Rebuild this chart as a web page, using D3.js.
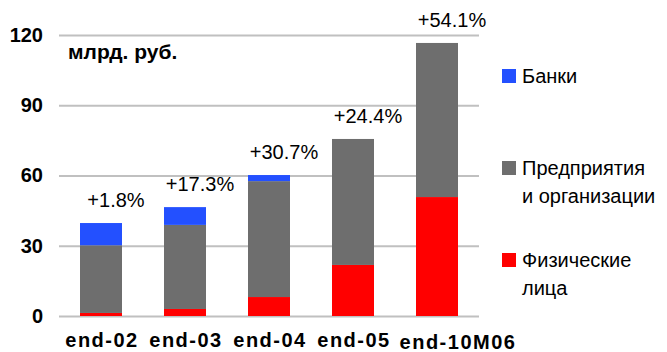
<!DOCTYPE html>
<html>
<head>
<meta charset="utf-8">
<script src="https://cdn.jsdelivr.net/npm/d3@7"></script>
<style>
  html, body { margin: 0; padding: 0; background: #fff; }
  svg { display: block; font-family: "Liberation Sans", Arial, sans-serif; }
</style>
</head>
<body>
<svg id="chart" width="667" height="352"></svg>
<script>
// Deposits by holder, bn roubles
const categories = ["end-02", "end-03", "end-04", "end-05", "end-10M06"];
const individuals = [1.3, 3.0, 8.1, 21.8, 50.8];
const enterprises = [28.9, 35.9, 49.5, 53.8, 65.8];
const banks = [9.5, 7.6, 2.6, 0, 0];
const growthLabels = ["+1.8%", "+17.3%", "+30.7%", "+24.4%", "+54.1%"];
const yTicks = [0, 30, 60, 90, 120];

const seriesKeys = ["individuals", "enterprises", "banks"];
const seriesNames = {
  banks: ["Банки"],
  enterprises: ["Предприятия", "и организации"],
  individuals: ["Физические", "лица"]
};
const colors = { individuals: "#FF0000", enterprises: "#6E6E6E", banks: "#2350FF" };

const rows = categories.map((c, i) => ({
  category: c,
  individuals: individuals[i],
  enterprises: enterprises[i],
  banks: banks[i]
}));

const svg = d3.select("#chart");
const plot = { left: 59, right: 479, top: 35, bottom: 316 };

const x = d3.scaleBand()
  .domain(categories)
  .range([plot.left, plot.right])
  .paddingInner(0.5)
  .paddingOuter(0.25);

const y = d3.scaleLinear()
  .domain([0, 120])
  .range([plot.bottom, plot.top]);

// Gridlines + value axis
const yAxis = svg.append("g")
  .attr("transform", `translate(${plot.left},0)`)
  .call(d3.axisLeft(y)
    .tickValues(yTicks)
    .tickSize(-(plot.right - plot.left))
    .tickPadding(16));
yAxis.select(".domain").remove();
yAxis.selectAll(".tick line")
  .attr("stroke", "#C0C0C0")
  .attr("stroke-width", 2);
yAxis.selectAll(".tick text")
  .attr("fill", "#000")
  .style("font-size", "20px")
  .style("font-weight", "bold")
  .style("font-family", "'Liberation Sans', Arial, sans-serif");

// Stacked bars
const stacked = d3.stack().keys(seriesKeys)(rows);
svg.append("g")
  .selectAll("g")
  .data(stacked)
  .join("g")
  .attr("fill", d => colors[d.key])
  .selectAll("rect")
  .data(d => d)
  .join("rect")
  .attr("x", d => x(d.data.category))
  .attr("width", x.bandwidth())
  .attr("y", d => y(d[1]))
  .attr("height", d => y(d[0]) - y(d[1]));

// Growth labels above each bar
svg.append("g")
  .selectAll("text")
  .data(rows)
  .join("text")
  .attr("x", d => x(d.category) + x.bandwidth() / 2 + 15)
  .attr("y", d => y(d.individuals + d.enterprises + d.banks) - 16)
  .attr("text-anchor", "middle")
  .style("font-size", "20px")
  .text((d, i) => growthLabels[i]);

// Category labels (the long last label is nudged right and down)
svg.append("g")
  .selectAll("text")
  .data(categories)
  .join("text")
  .attr("x", (d, i) => x(d) + x.bandwidth() / 2 + (i === categories.length - 1 ? 21 : 1))
  .attr("y", (d, i) => i === categories.length - 1 ? 349 : 347)
  .attr("text-anchor", "middle")
  .style("font-size", "20px")
  .style("font-weight", "bold")
  .style("letter-spacing", "1.5px")
  .text(d => d);

// Unit caption
svg.append("text")
  .attr("x", 68)
  .attr("y", 59)
  .style("font-size", "21px")
  .style("font-weight", "bold")
  .text("млрд. руб.");

// Legend
const legendItems = [
  { key: "banks", top: 69 },
  { key: "enterprises", top: 161 },
  { key: "individuals", top: 253 }
];
const legend = svg.append("g");
legendItems.forEach(item => {
  legend.append("rect")
    .attr("x", 502)
    .attr("y", item.top)
    .attr("width", 14)
    .attr("height", 14)
    .attr("fill", colors[item.key]);
  const t = legend.append("text")
    .attr("x", 522)
    .attr("y", item.top + 14)
    .style("font-size", "20px");
  seriesNames[item.key].forEach((line, j) => {
    t.append("tspan")
      .attr("x", 522)
      .attr("dy", j === 0 ? 0 : 28)
      .text(line);
  });
});
</script>
</body>
</html>
